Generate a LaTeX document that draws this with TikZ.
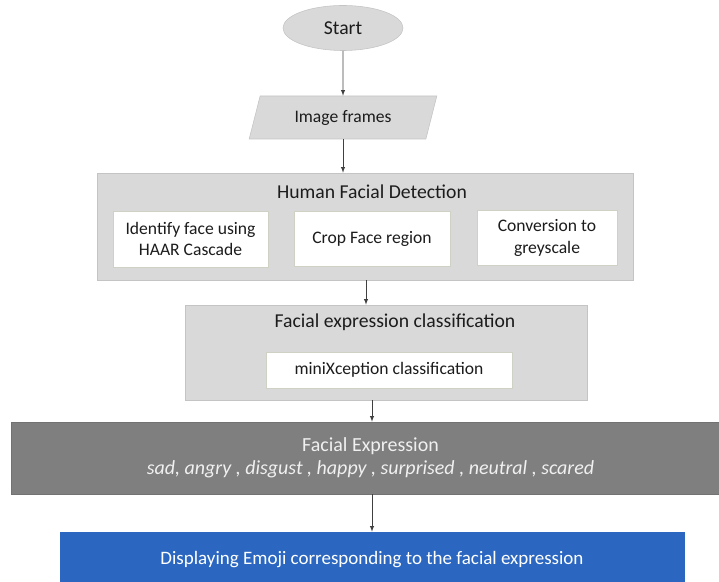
\documentclass[tikz,border=0pt]{standalone}
\usepackage{fontspec}
\setmainfont{Carlito}
\usetikzlibrary{shapes.geometric}

\definecolor{StageColor}{RGB}{217,217,217}
\definecolor{StageLine}{RGB}{196,196,196}
\definecolor{SubLine}{RGB}{206,210,196}
\definecolor{ExprColor}{RGB}{127,127,127}
\definecolor{EmojiColor}{RGB}{43,103,192}
\definecolor{TextColor}{RGB}{28,28,28}
\tikzstyle{fd-base}=[rectangle,
                     draw=StageLine,
                     text centered,
                     inner sep=0pt,
                     text=TextColor,
                    ]
\tikzstyle{fd-stage}=[fd-base,
                      fill={StageColor}]
\tikzstyle{fd-sub}=[fd-base,
                    fill=white,
                    draw=SubLine,
                    align=center,
                    font=\fontsize{12.5}{15}\selectfont]
\tikzstyle{fd-title}=[font=\fontsize{14}{17}\selectfont, text=TextColor]
\tikzstyle{fd-arrow}=[-latex, draw=black!75]

\begin{document}
\begin{tikzpicture}[x=0.025cm, y=-0.025cm]
\useasboundingbox (0,0) rectangle (719,582);

\node at (343, 28)    (fd_start)  [ellipse, fill=StageColor, draw=StageLine, minimum width=3cm, minimum height=1.125cm, fd-title] {Start};
\node at (343, 117.5) (fd_frames) [trapezium, trapezium left angle=74, trapezium right angle=106, trapezium stretches=true,
                                   fill=StageColor, draw=StageLine, minimum width=4.725cm, minimum height=1.075cm,
                                   font=\fontsize{12.5}{15}\selectfont, text=TextColor] {Image frames};

\node at (365, 226.5) (fd_detect)   [fd-stage, minimum width=13.4cm, minimum height=2.675cm] {};
\node at (372, 192)   (fd_detect_t) [fd-title] {Human Facial Detection};
\node at (190.5, 239) (fd_haar)     [fd-sub, minimum width=3.875cm, minimum height=1.4cm] {Identify face using\\HAAR Cascade};
\node at (372, 239)   (fd_crop)     [fd-sub, minimum width=3.9cm, minimum height=1.375cm] {Crop Face region};
\node at (547, 238)   (fd_grey)     [fd-sub, minimum width=3.5cm, minimum height=1.375cm] {Conversion to\\greyscale};

\node at (386, 352.5) (fd_classify)   [fd-stage, minimum width=10.05cm, minimum height=2.375cm] {};
\node at (395, 322)   (fd_classify_t) [fd-title] {Facial expression classification};
\node at (389, 370)   (fd_mini)       [fd-sub, minimum width=6.15cm, minimum height=0.9cm] {miniXception classification};

\node at (370.5, 458) (fd_expr)    [fd-base, fill=ExprColor, draw=ExprColor!90!black, minimum width=17.975cm, minimum height=1.8cm,
                                    text=white!94!black, align=center, font=\fontsize{14.2}{16.4}\selectfont]
                                   {Facial Expression\\\textit{sad, angry , disgust , happy , surprised , neutral , scared}};
\node at (372, 560)     (fd_emoji) [fd-base, fill=EmojiColor, draw=EmojiColor, minimum width=15.6cm, minimum height=1.4cm,
                                    text=white, font=\fontsize{13.5}{16}\selectfont]
                                   {Displaying Emoji corresponding to the facial expression};

\coordinate (fd_col) at (366, 0);

\draw[fd-arrow] (fd_start) -- (fd_frames);
\draw[fd-arrow] (fd_frames.south) -- (fd_frames.south |- fd_detect.north);
\draw[fd-arrow] (fd_detect.south -| fd_col) -- (fd_classify.north -| fd_col);
\draw[fd-arrow] (fd_classify.south -| fd_emoji) -- (fd_expr.north -| fd_emoji);
\draw[fd-arrow] (fd_expr.south -| fd_emoji) -- (fd_emoji);
\end{tikzpicture}
\end{document}
